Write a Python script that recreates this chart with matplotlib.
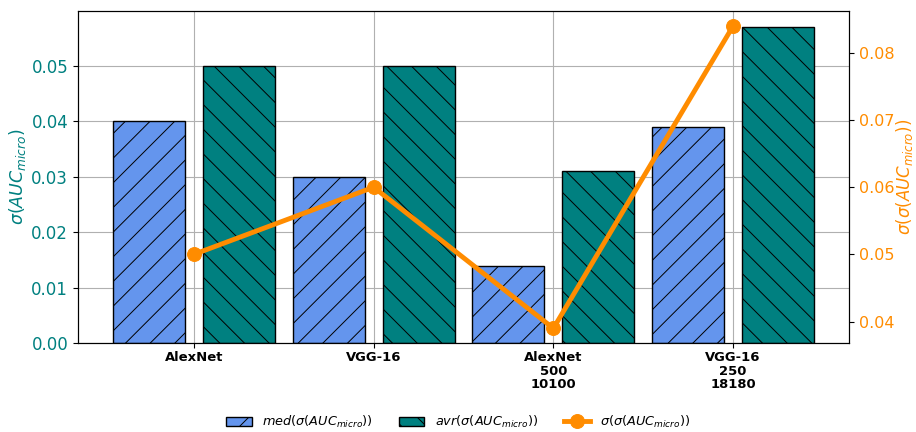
import numpy as np
import matplotlib.pyplot as plt

# render at a lower dpi so the hatch comes out as dense as in the original,
# and scale every point size back up by S
DPI = 74
S = 100 / DPI

plt.rcParams['hatch.linewidth'] = 0.7 * S
plt.rcParams['axes.linewidth'] = 0.8 * S
plt.rcParams['patch.linewidth'] = 1.0 * S
for a in ('xtick', 'ytick'):
    plt.rcParams[a + '.major.width'] = 0.8 * S
    plt.rcParams[a + '.major.size'] = 3.5 * S
    plt.rcParams[a + '.major.pad'] = 3.5 * S

categories = ['AlexNet', 'VGG-16', 'AlexNet\n500\n10100', 'VGG-16\n250\n18180']
med_vals = [0.040, 0.030, 0.014, 0.039]
avr_vals = [0.050, 0.050, 0.031, 0.057]
std_vals = [0.050, 0.060, 0.039, 0.084]

x = np.arange(len(categories))
w = 0.4

fig, ax = plt.subplots(figsize=(916 / DPI, 432 / DPI), dpi=DPI)
plt.subplots_adjust(left=0.085, right=0.927, top=0.975, bottom=0.205)

ax.set_axisbelow(True)
ax.grid(True, color='#b0b0b0', linewidth=0.8 * S)
b1 = ax.bar(x - 0.25, med_vals, w, color='cornflowerblue', edgecolor='black',
            hatch='/', label=r'$med(\sigma(AUC_{micro}))$')
b2 = ax.bar(x + 0.25, avr_vals, w, color='teal', edgecolor='black',
            hatch='\\', label=r'$avr(\sigma(AUC_{micro}))$')

ax.set_xticks(x)
ax.set_xticklabels(categories, fontweight='bold', fontsize=9.5 * S, linespacing=1.05)
ax.tick_params(axis='x', pad=2 * S)
ax.set_ylabel(r'$\sigma(AUC_{micro})$', color='teal', fontsize=12.5 * S, labelpad=2 * S)
ax.tick_params(axis='y', labelcolor='teal', labelsize=12 * S)

ax2 = ax.twinx()
ln, = ax2.plot(x, std_vals, color='darkorange', marker='o', linewidth=3.5 * S,
               markersize=10 * S, label=r'$\sigma(\sigma(AUC_{micro}))$')
ax2.set_ylabel(r'$\sigma(\sigma(AUC_{micro}))$', color='darkorange', fontsize=12 * S,
               labelpad=0)
ax2.tick_params(axis='y', labelcolor='darkorange', labelsize=11.5 * S)

fig.legend(handles=[b1, b2, ln], loc='lower center', ncol=3, frameon=False,
           fontsize=9.3 * S, bbox_to_anchor=(0.5, -0.022), columnspacing=2.0)

fig.savefig('out.png', dpi=DPI)
